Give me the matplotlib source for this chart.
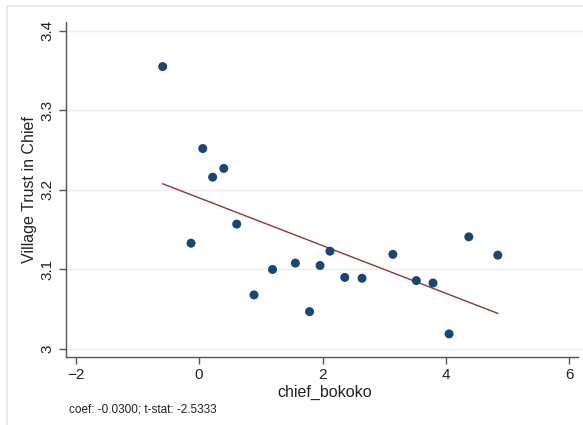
import matplotlib
matplotlib.use("Agg")
import matplotlib.pyplot as plt
import numpy as np
from matplotlib.patches import Rectangle

plt.rcParams['font.family'] = ['Liberation Sans', 'DejaVu Sans']

# Village-level scatter values
chief_bokoko = [-0.59, 0.06, 0.22, 0.40, -0.13, 0.61, 0.89, 1.19, 1.56, 1.79,
                1.96, 2.12, 2.36, 2.64, 3.14, 3.52, 3.79, 4.05, 4.37, 4.84]
trust_in_chief = [3.355, 3.252, 3.216, 3.227, 3.133, 3.157, 3.068, 3.100, 3.108, 3.047,
                  3.105, 3.123, 3.090, 3.089, 3.119, 3.086, 3.083, 3.019, 3.141, 3.118]

# Regression line
coef = -0.0300
intercept = 3.190
t_stat = -2.5333

x_ticks = [-2, 0, 2, 4, 6]
y_ticks = [3.0, 3.1, 3.2, 3.3, 3.4]
y_tick_labels = ['3', '3.1', '3.2', '3.3', '3.4']


def main():
    fig = plt.figure(figsize=(5.83, 4.25), dpi=100)
    fig.patch.set_facecolor('white')

    # light outer frame of the graph region
    fig.patches.append(Rectangle((7 / 583, -0.05), 1.2, 1 - 6 / 425 + 0.05,
                                 transform=fig.transFigure, fill=False,
                                 edgecolor='#e6e6e6', linewidth=1.2))

    ax = fig.add_axes([66 / 583, 1 - 357 / 425, 517 / 583, 335 / 425])
    ax.set_xlim(-2.156, 6.22)
    ax.set_ylim(2.99, 3.411)

    # horizontal grid lines
    for yv in y_ticks:
        ax.axhline(yv, color='#eeeeee', linewidth=1.0, zorder=0)

    ax.scatter(chief_bokoko, trust_in_chief, s=42, color='#1a476f',
               edgecolors='none', zorder=3)

    xs = np.array([min(chief_bokoko), max(chief_bokoko)])
    ax.plot(xs, intercept + coef * xs, color='#90353b', linewidth=1.0, zorder=2)

    for spine in ['top', 'right']:
        ax.spines[spine].set_visible(False)
    for spine in ['bottom', 'left']:
        ax.spines[spine].set_color('#555555')
        ax.spines[spine].set_linewidth(1.0)
    ax.spines['bottom'].set_bounds(-2.156, 6.14)

    ax.set_xticks(x_ticks)
    ax.set_yticks(y_ticks)
    ax.set_yticklabels(y_tick_labels, rotation=90, va='center')
    ax.tick_params(axis='both', direction='out', length=5, width=1.0,
                   color='#555555', labelsize=11, labelcolor='#222222', pad=3)

    ax.set_xlabel('chief_bokoko', fontsize=11.5, color='#222222', labelpad=2)
    ax.set_ylabel('Village Trust in Chief', fontsize=11.5, color='#222222', labelpad=3)

    fig.text(69 / 583, 1 - 409 / 425,
             'coef: %.4f; t-stat: %.4f' % (coef, t_stat),
             fontsize=8.5, color='#222222', va='center', ha='left')

    fig.savefig('out.png', dpi=100, facecolor='white')


if __name__ == "__main__":
    main()
